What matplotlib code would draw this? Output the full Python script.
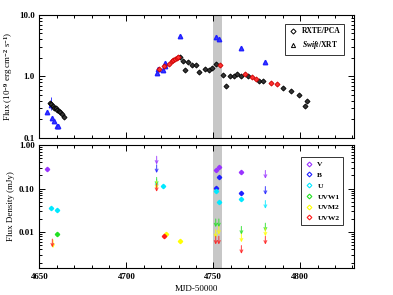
import matplotlib
matplotlib.use("Agg")
import matplotlib.pyplot as plt
from matplotlib.lines import Line2D
from matplotlib.ticker import MultipleLocator, LogLocator, NullFormatter

plt.rcParams["font.family"] = "Liberation Serif"
plt.rcParams["font.weight"] = "bold"
plt.rcParams["mathtext.fontset"] = "custom"
plt.rcParams["mathtext.rm"] = "Liberation Serif:bold"
plt.rcParams["mathtext.it"] = "Liberation Serif:italic:bold"
plt.rcParams["mathtext.bf"] = "Liberation Serif:bold"

# ---- X-ray fluxes (10^-9 erg cm^-2 s^-1) ----
pca_t = [4656.0, 4656.9, 4657.7, 4658.5, 4659.3, 4660.2, 4661.0, 4662.0, 4663.0, 4664.3,
         4731.1, 4732.3, 4733.6, 4735.5, 4738.0, 4740.0, 4741.9, 4745.5, 4747.6, 4749.5,
         4751.4, 4755.6, 4757.6, 4759.5, 4762.0, 4763.9, 4766.2, 4770.0, 4776.3, 4778.6,
         4790.1, 4794.5, 4799.1, 4803.0, 4804.1]
pca_f = [0.37, 0.35, 0.33, 0.31, 0.30, 0.28, 0.27, 0.26, 0.24, 0.22,
         2.04, 1.78, 1.27, 1.74, 1.53, 1.53, 1.19, 1.31, 1.27, 1.35,
         1.57, 1.06, 0.70, 1.03, 1.03, 1.11, 1.03, 1.03, 0.84, 0.84,
         0.64, 0.58, 0.49, 0.33, 0.40]
pca_red_t = [4718.7, 4721.6, 4724.6, 4726.0, 4726.9, 4727.9, 4728.9, 4729.8,
             4753.7, 4768.1, 4772.5, 4774.4, 4783.4, 4786.7]
pca_red_f = [1.30, 1.48, 1.62, 1.80, 1.85, 1.90, 1.97, 2.04,
             1.52, 1.11, 0.99, 0.91, 0.79, 0.74]
xrt_t = [4654.5, 4656.4, 4657.0, 4658.3, 4659.8, 4660.5, 4717.7, 4718.3, 4721.2,
         4722.1, 4722.5, 4730.7, 4751.4, 4753.2, 4766.2, 4780.0]
xrt_f = [0.265, 0.34, 0.207, 0.19, 0.155, 0.155, 1.15, 1.30, 1.27,
         1.67, 1.48, 4.6, 4.33, 4.06, 2.87, 1.69]
xrt_elo = [0.02, 0.06, 0.015, 0.015, 0.01, 0.01, 0.06, 0.07, 0.07,
           0.09, 0.08, 0.2, 0.2, 0.2, 0.12, 0.08]
xrt_ehi = [0.02, 0.12, 0.015, 0.015, 0.01, 0.01, 0.06, 0.07, 0.07,
           0.09, 0.08, 0.2, 0.2, 0.2, 0.12, 0.08]

# ---- UVOT flux densities (mJy): detections and upper limits ----
filters = ["V", "B", "U", "UVW1", "UVM2", "UVW2"]
colors = ["#9933ff", "#1f1fff", "#00e8ff", "#22e022", "#ffff00", "#ff1a1a"]
det_t = {
    "V": [4654.5, 4751.4, 4753.2, 4766.2],
    "B": [4751.4, 4753.2, 4766.2],
    "U": [4656.4, 4660.2, 4721.0, 4751.4, 4753.2, 4766.2],
    "UVW1": [4659.9],
    "UVM2": [4722.7, 4730.9],
    "UVW2": [4721.7],
}
det_f = {
    "V": [0.28, 0.26, 0.31, 0.237],
    "B": [0.105, 0.18, 0.0785],
    "U": [0.0356, 0.0326, 0.113, 0.089, 0.049, 0.058],
    "UVW1": [0.0091],
    "UVM2": [0.0091, 0.0062],
    "UVW2": [0.0082],
}
ul_t = {
    "V": [4717.4, 4780.0],
    "B": [4717.4, 4780.0],
    "U": [4717.4, 4780.0],
    "UVW1": [4717.4, 4751.4, 4753.2, 4766.2, 4780.0],
    "UVM2": [4657.8, 4717.4, 4751.4, 4753.2, 4766.2, 4780.0],
    "UVW2": [4657.4, 4717.4, 4751.4, 4753.2, 4766.2, 4780.0],
}
ul_f = {
    "V": [0.55, 0.26],
    "B": [0.35, 0.111],
    "U": [0.16, 0.053],
    "UVW1": [0.18, 0.020, 0.020, 0.0135, 0.016],
    "UVM2": [0.0066, 0.15, 0.0113, 0.0135, 0.009, 0.0124],
    "UVW2": [0.0069, 0.13, 0.0080, 0.0080, 0.0049, 0.0080],
}

ARROW = 10 ** -0.19  # arrow length in dex

fig = plt.figure(figsize=(3.93, 2.95), dpi=100)
ax1 = fig.add_axes([0.1005, 0.5332, 0.8003, 0.4159])
ax2 = fig.add_axes([0.1005, 0.0915, 0.8003, 0.4170])

for ax in (ax1, ax2):
    ax.axvspan(4750, 4755, color="0.78", lw=0, zorder=0)
    ax.set_xlim(4650, 4831)
    ax.set_yscale("log")
    ax.xaxis.set_major_locator(MultipleLocator(50))
    ax.xaxis.set_minor_locator(MultipleLocator(10))
    ax.yaxis.set_minor_locator(LogLocator(base=10, subs=range(2, 10)))
    ax.yaxis.set_minor_formatter(NullFormatter())
    ax.tick_params(which="both", direction="in", top=True, right=True,
                   labelsize=6.5, width=0.7)
    ax.tick_params(which="major", length=4)
    ax.tick_params(which="minor", length=2)
    for s in ax.spines.values():
        s.set_linewidth(0.8)

# top panel
ax1.errorbar(xrt_t, xrt_f, yerr=[xrt_elo, xrt_ehi], fmt="^", ms=3.2, color="#2020ff",
             mfc="#3a3aff", mec="#2020ff", elinewidth=0.6, capsize=0, zorder=3)
ax1.plot(pca_t, pca_f, "D", ms=2.6, color="black", mfc="#333333", mec="black",
         mew=0.6, zorder=4)
ax1.plot(pca_red_t, pca_red_f, "D", ms=2.6, color="red", mfc="#ff3030", mec="#cc0000",
         mew=0.6, zorder=4)
ax1.set_ylim(0.1, 10)
ax1.set_yticks([0.1, 1, 10])
ax1.set_yticklabels(["0.1", "1.0", "10.0"])
ax1.set_xticklabels([])
ax1.set_ylabel(r"Flux (10$^{-9}$ erg cm$^{-2}$ s$^{-1}$)", fontsize=6.5, labelpad=3)

h1 = [Line2D([], [], ls="none", marker="D", ms=2.6, mfc="none", mec="black", mew=0.7),
      Line2D([], [], ls="none", marker="^", ms=3, mfc="none", mec="black", mew=0.7)]
leg1 = ax1.legend(h1, ["RXTE/PCA", r"$\it{Swift}$/XRT"], loc="upper right",
                  bbox_to_anchor=(0.969, 0.927), fontsize=5.5, frameon=True,
                  fancybox=False, edgecolor="black", handlelength=1.2,
                  handletextpad=0.6, borderpad=0.45, labelspacing=0.5, borderaxespad=0)
leg1.get_frame().set_linewidth(0.7)

# bottom panel
for name, c in zip(filters, colors):
    ax2.errorbar(det_t[name], det_f[name],
                 xerr=0.6, yerr=[[f * 0.08 for f in det_f[name]],
                                 [f * 0.08 for f in det_f[name]]],
                 fmt="D", ms=2.2, color=c, elinewidth=0.7, capsize=0, zorder=3)
    for t, f in zip(ul_t[name], ul_f[name]):
        ax2.annotate("", xy=(t, f * ARROW), xytext=(t, f),
                     arrowprops=dict(arrowstyle="->", color=c, lw=0.8, alpha=0.75,
                                     shrinkA=0, shrinkB=0, mutation_scale=5),
                     zorder=2)

ax2.set_ylim(0.0015, 1.0)
ax2.set_yticks([0.01, 0.1, 1.0])
ax2.set_yticklabels(["0.01", "0.10", "1.00"])
ax2.set_xticks([4650, 4700, 4750, 4800])
ax2.set_xticklabels(["4650", "4700", "4750", "4800"])
ax2.set_xlabel("MJD-50000", fontsize=6.5, labelpad=3)
ax2.set_ylabel("Flux Density (mJy)", fontsize=6.5, labelpad=3)

h2 = [Line2D([], [], ls="none", marker="D", ms=2.4, mfc="none", mec=c, mew=0.8)
      for c in colors]
leg2 = ax2.legend(h2, filters, loc="upper right", bbox_to_anchor=(0.966, 0.90),
                  fontsize=5.4, frameon=True, fancybox=False, edgecolor="black",
                  handlelength=1.1, handletextpad=0.6, borderpad=0.5,
                  labelspacing=0.6, borderaxespad=0)
leg2.get_frame().set_linewidth(0.7)

fig.savefig("out.png", dpi=100)
